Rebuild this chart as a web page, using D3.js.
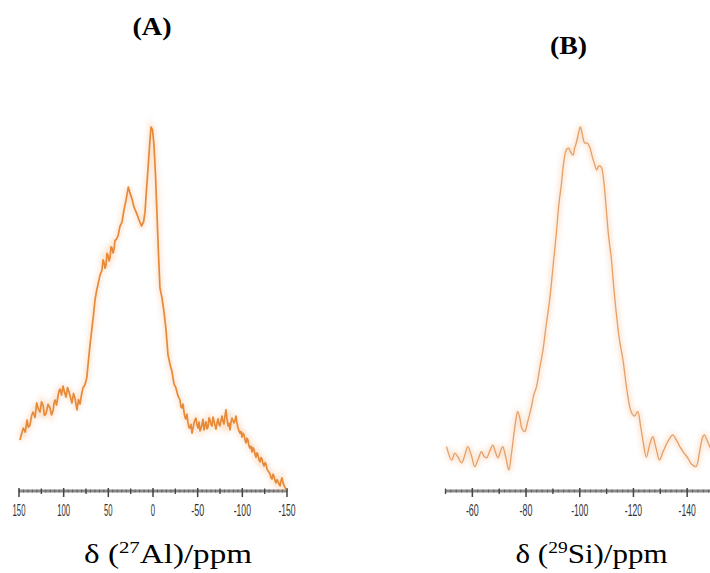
<!DOCTYPE html>
<html>
<head>
<meta charset="utf-8">
<script src="https://cdn.jsdelivr.net/npm/d3@7"></script>
<style>
  html, body { margin: 0; padding: 0; background: #fff; }
  svg { display: block; }
</style>
</head>
<body>
<svg id="chart" width="710" height="573"></svg>
<script>
// 27Al MAS NMR spectrum: chemical shift (ppm) and intensity (a.u.)
const alShift = [148.9,147,145.2,143,141,139.5,137.7,136,134.3,132,130.2,128.3,126.5,124.8,123.1,121.5,119.8,117.5,115.3,113.6,111.9,110.8,109.7,108,106.3,105.2,104.1,102.4,100.7,99,97.4,95.7,94,92.3,90.7,89,87.3,86.2,85.1,83.4,81.7,80,78.4,76.3,74.2,
  72.2,70.5,68.3,66.6,64.9,63,61,59.3,57.1,56,54.9,53.7,52.6,51.5,50.4,49.2,48.1,47,45.9,44.8,43.7,42.5,41.4,39.2,36.9,34.7,32.5,30.2,27.6,
  25.8,23.5,21.3,18.5,15.7,12.9,10.6,8.96,7.3,5.3,3.4,2.2,0.56,-1.1,-2.8,-4.5,-6.2,-7.8,-10.1,-12.3,-14.6,-16.8,-19,-21.3,-23.5,-25.7,-28,
  -30.2,-31.3,-32.5,-33.6,-34.7,-35.8,-36.9,-38,-39.2,-40.3,-41.4,-42.5,-43.7,-44.8,-45.9,-47,-48.1,-49.2,-50.4,-51.5,-52.6,-53.7,-54.9,-56,-57.1,-58.2,-59.3,-60.4,-61.6,-62.7,-63.8,-65,-66.1,-67.2,-68.3,-69.4,-70.5,-71.7,-72.8,-73.9,-75,-76.1,-77.2,-78.3,-79.5,-80.6,-81.7,-82.8,-84,-85.1,-86.2,-87.3,-88.4,-89.5,-90.7,-91.8,-92.9,-94,-95.2,-96.3,-97.4,-98.5,-99.6,-100.7,-101.9,-103,-104.1,-105.2,-106.3,-107.4,-108.6,-109.7,-110.8,-111.9,-113,-114.1,-115.3,-116.4,-117.5,-118.6,-119.8,-120.9,-122,-123.1,-124.3,-125.4,-126.5,-127.6,-128.7,-129.8,-131,-132.1,-133.2,-134.3,-135.4,-136.5,-137.7,-138.8,-139.9,-141,-142.2,-143.3,-144.4,-145.5,-146.6,-147.8,-148.9];
const alIntensity = [14,15.8,17.3,16.2,19.5,17.5,18.1,20.6,21.7,20.2,24.2,22.5,21.7,24.5,23.6,20.8,21.2,23.8,22.8,20.9,22,24.1,25,23.6,26.1,27.5,28,26.4,28.8,27.1,25.8,28.4,27.2,25.7,24.2,26.8,25.5,23.8,22.3,25.1,23.9,26.5,28.3,29.1,31,
  36,40.1,44.8,48.4,52.5,55.2,57.4,59.3,60.7,63.5,62.9,61.2,62.1,65.3,64.8,63.2,64,67.1,66.8,65.4,66.2,68.9,69,70,72.8,73.9,77.2,79.9,83.5,
  81.9,80.2,78,76.4,74.5,72.8,73.9,76.6,82.7,89.6,96.4,100,99.2,95,86.8,75.8,64.8,55.8,53,49.2,44.2,37.4,34.9,32.7,29.4,28.3,26.1,
  25,23.1,22.8,23.9,21.7,20.2,19.8,21.1,18.7,17.4,17.3,18.3,15.9,17.2,18.7,19.6,20,18.2,17.3,18.9,16.5,17.1,18.4,19.7,16.8,18.1,19,17.1,17.6,20.1,19.5,18.2,17.9,20.3,19.2,18.1,17,18.8,19.8,18.3,17.9,19.4,20.6,19.1,18.4,20.7,22.3,19.8,17.9,18.6,16.8,18.9,20,19.3,18.7,19.4,20.6,18.7,17.3,16.5,15.9,16.4,14.8,15.9,15.4,14.1,13.2,14.5,14,12.4,11.8,12.3,10.7,11.9,11.5,10.2,9.3,10.5,9.9,8.6,8,9.2,8.8,7.6,6.9,7.8,7.4,6.1,5.5,5.2,4.7,3.6,3.3,4.6,4.1,2.9,2.2,3.1,2.7,1.9,1.4,2.8,3.6,2.3,1.6,0.9,0.5];

// 29Si MAS NMR spectrum: chemical shift (ppm) and intensity (a.u.)
const siShift = [-50.4,-52.3,-53.5,-54.6,-56,-57.2,-58.3,-59.6,-60.9,-62.2,-63.4,-64.3,-65.3,-66.5,-67.6,-68.6,-69.5,-70.4,-71.3,-72.5,-73.6,-74.5,-75.2,-76.2,-76.9,-77.7,-78.4,-79.5,-80.6,-82,-82.9,-83.9,-85.1,-86.3,-87.5,-88.8,-90,-91.3,-92.2,-93.2,-94,-95,-95.9,-96.6,-97.5,-98.1,-98.7,-99.5,-100.2,-101.1,-101.8,-102.8,-103.7,-104.6,-105.6,-106.3,-107.1,-108,-108.9,-109.9,-110.7,-111.7,-112.6,-113.6,-114.8,-116.1,-117.2,-118.6,-119.5,-120.4,-121.6,-122.6,-123.5,-124.8,-126,-127.2,-128.4,-129.7,-131,-132.3,-133.4,-134.6,-136,-137.1,-138.6,-140.2,-141.6,-143.3,-144.6,-145.7,-146.4,-147.4,-148.3,-149.4];
const siIntensity = [12.2,8.5,10.4,9.4,7.7,9.9,12.2,9.9,6.7,8.8,10.8,9.6,9.1,11,12.6,10.7,9.1,10.7,12.2,9.1,5.8,9.9,14,19.5,21.8,20,17.3,16.3,19,23.2,26.4,28.7,33.8,38.7,45.6,52.5,61.3,70.9,78.6,84.6,90.1,93.7,94.2,93.1,92.3,94.2,95.6,98.1,100,97.5,95.6,95.6,94.5,92,89.6,88.2,89.3,89,85.4,77.2,70.3,64.3,56.6,48.9,41.5,36,29.7,23.2,21.2,20.6,21.8,18.1,14,9.3,12.6,14.9,11.8,8.5,10.7,12.9,14.3,15.4,14,12.4,10.7,9.1,7.4,6.7,10.7,14.6,15.4,14,12.4,10.7];

// Axis tick values
const alMajorTicks = [150, 100, 50, 0, -50, -100, -150];
const alMinorTicks = [125, 75, 25, -25, -75, -125];
const siMajorTicks = [-60, -80, -100, -120, -140];
const siMinorTicks = [-50, -70, -90, -110, -130, -150];

const panelTitles = ["(A)", "(B)"];
const nuclei = ["27", "29"];
const elements = ["Al", "Si"];

const svg = d3.select("#chart");
const axisY = 491;

const yScale = d3.scaleLinear().domain([0, 100]).range([axisY, 127]);

const panels = [
  {
    title: panelTitles[0], titleX: 152, titleY: 35, titleW: 39,
    shift: alShift, inten: alIntensity,
    x: d3.scaleLinear().domain([150, -150]).range([19, 287]),
    major: alMajorTicks, minor: alMinorTicks, fine: d3.range(150, -151, -5),
    labelX: 168, labelW: 168, nuc: nuclei[0], el: elements[0],
    stroke: "#e68a3a", curve: d3.curveLinear, width: 1.7
  },
  {
    title: panelTitles[1], titleX: 568.5, titleY: 54, titleW: 37,
    shift: siShift, inten: siIntensity,
    x: d3.scaleLinear().domain([-50, -150]).range([445.5, 714]),
    major: siMajorTicks, minor: siMinorTicks, fine: d3.range(-50, -151, -2),
    labelX: 591.5, labelW: 152, nuc: nuclei[1], el: elements[1],
    stroke: "#e3a06a", curve: d3.curveCatmullRom, width: 1.3
  }
];

// soft glow behind the traces
const defs = svg.append("defs");
defs.append("filter").attr("id", "glow")
  .attr("x", "-10%").attr("y", "-10%").attr("width", "120%").attr("height", "120%")
  .append("feGaussianBlur").attr("stdDeviation", 2.5);

panels.forEach(p => {
  const g = svg.append("g");
  const pts = p.shift.map((s, i) => [s, p.inten[i]]);
  const line = d3.line()
    .x(d => p.x(d[0]))
    .y(d => yScale(d[1]))
    .curve(p.curve);

  // axis: thick grey baseline with fine, minor and major ticks
  const ax = g.append("g").attr("transform", `translate(0,${axisY})`);
  const [r0, r1] = p.x.range();
  ax.append("line").attr("x1", r0).attr("x2", Math.min(r1, 712))
    .attr("stroke", "#8a8a8a").attr("stroke-width", 3);
  ax.selectAll("line.fine").data(p.fine).join("line").attr("class", "fine")
    .attr("x1", d => p.x(d)).attr("x2", d => p.x(d))
    .attr("y1", -1.5).attr("y2", 1.5)
    .attr("stroke", "#555").attr("stroke-width", 0.8);
  ax.selectAll("line.minor").data(p.minor).join("line").attr("class", "minor")
    .attr("x1", d => p.x(d)).attr("x2", d => p.x(d))
    .attr("y1", -2.5).attr("y2", 3)
    .attr("stroke", "#444").attr("stroke-width", 1.3);
  ax.selectAll("line.major").data(p.major).join("line").attr("class", "major")
    .attr("x1", d => p.x(d)).attr("x2", d => p.x(d))
    .attr("y1", -3).attr("y2", 6)
    .attr("stroke", "#444").attr("stroke-width", 1.5);
  ax.selectAll("text").data(p.major).join("text")
    .attr("x", d => p.x(d)).attr("y", 24.5)
    .attr("text-anchor", "middle")
    .attr("font-family", "'Liberation Sans Narrow', 'Liberation Sans', sans-serif")
    .attr("font-size", 17)
    .attr("fill", "#333")
    .attr("textLength", d => String(d).length * 4.3)
    .attr("lengthAdjust", "spacingAndGlyphs")
    .text(d => d);

  // spectrum trace
  g.append("path").datum(pts)
    .attr("d", line).attr("fill", "none")
    .attr("stroke", "#f4b27a").attr("stroke-width", 5).attr("opacity", 0.35)
    .attr("filter", "url(#glow)");
  g.append("path").datum(pts)
    .attr("d", line).attr("fill", "none")
    .attr("stroke", p.stroke).attr("stroke-width", p.width)
    .attr("stroke-linejoin", "round");

  // panel title
  g.append("text")
    .attr("x", p.titleX).attr("y", p.titleY)
    .attr("text-anchor", "middle")
    .attr("font-family", "'Liberation Serif', 'Times New Roman', serif")
    .attr("font-weight", "bold").attr("font-size", 25)
    .attr("textLength", p.titleW).attr("lengthAdjust", "spacingAndGlyphs")
    .attr("fill", "#000")
    .text(p.title);

  // axis title: δ (nX)/ppm
  const t = g.append("text")
    .attr("x", p.labelX).attr("y", 562.5)
    .attr("text-anchor", "middle")
    .attr("font-family", "'Liberation Serif', 'Times New Roman', serif")
    .attr("font-size", 27).attr("fill", "#000")
    .attr("textLength", p.labelW).attr("lengthAdjust", "spacingAndGlyphs");
  t.append("tspan").text("δ (");
  t.append("tspan").attr("font-size", 17).attr("dy", -10).text(p.nuc);
  t.append("tspan").attr("dy", 10).text(p.el + ")/ppm");
});
</script>
</body>
</html>
